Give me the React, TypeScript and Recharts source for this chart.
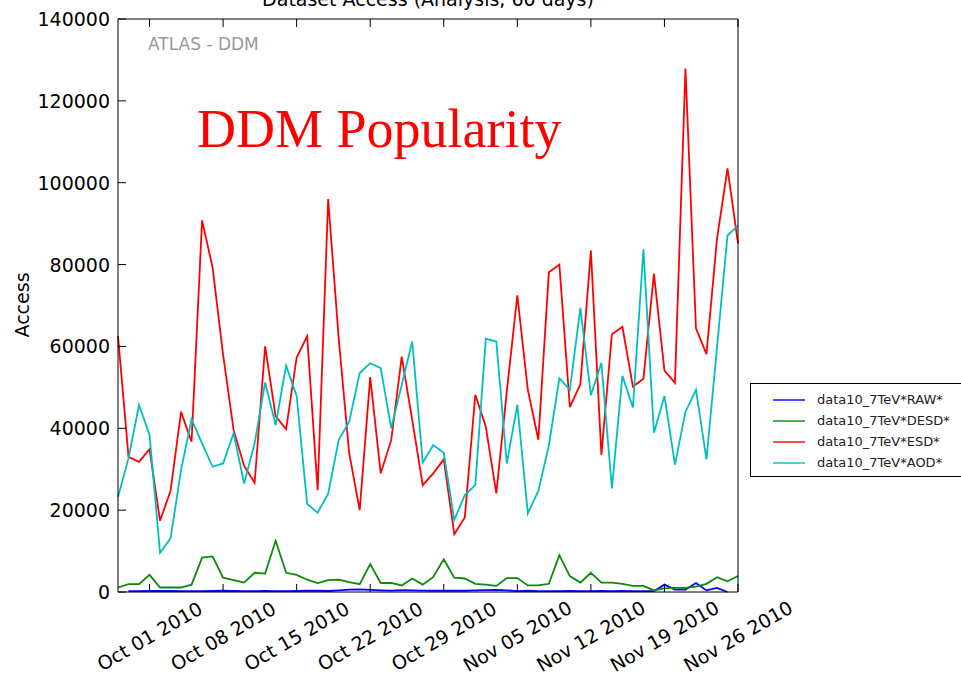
import { LineChart, Line, XAxis, YAxis } from "recharts";

// day 0 = Sep 28 2010, one point per day
const tickDays = [3, 10, 17, 24, 31, 38, 45, 52, 59];
const tickLabels = [
  "Oct 01 2010",
  "Oct 08 2010",
  "Oct 15 2010",
  "Oct 22 2010",
  "Oct 29 2010",
  "Nov 05 2010",
  "Nov 12 2010",
  "Nov 19 2010",
  "Nov 26 2010",
];
const yTicks = [0, 20000, 40000, 60000, 80000, 100000, 120000, 140000];

const raw = [
  null, 200, 200, 250, 250, 250, 200, 200, 200, 250, 300, 250, 200, 200, 250, 200, 200, 250, 300, 300,
  250, 400, 600, 650, 500, 400, 350, 450, 400, 350, 300, 300, 350, 300, 400, 450, 500, 400, 200, 300,
  200, 200, 200, 250, 200, 200, 250, 200, 250, 200, 200, 200, 1800, 600, 600, 2200, 400, 1000, 0, null,
];
const desd = [
  1100, 1900, 1900, 4200, 1100, 1100, 1100, 1800, 8400, 8700, 3500, 2900, 2300, 4700, 4500, 12500, 4700, 4200, 3000, 2200,
  2900, 3000, 2400, 1900, 6800, 2200, 2200, 1600, 3300, 1800, 3700, 8000, 3500, 3300, 2000, 1800, 1500, 3400, 3400, 1600,
  1600, 2000, 9000, 3900, 2300, 4700, 2300, 2300, 2000, 1500, 1500, 400, 900, 1000, 1000, 1300, 2000, 3600, 2600, 3900,
];
const esd = [
  62500, 33000, 31800, 34900, 17400, 24700, 44000, 36700, 90800, 79300, 58000, 39600, 30800, 26700, 60000, 42900, 39800, 57300, 62500, 24900,
  96000, 62000, 33900, 20000, 52500, 29000, 37100, 57500, 42000, 26100, 29000, 32400, 14100, 18200, 48200, 40400, 24100, 49000, 72500, 49400,
  37200, 78100, 80000, 45200, 50800, 83400, 33500, 63000, 64800, 50200, 52100, 77800, 54100, 51100, 127900, 64400, 58100, 86300, 103500, 85200,
];
const aod = [
  23200, 32700, 45700, 38400, 9600, 13100, 29800, 42200, 36300, 30600, 31400, 38800, 26500, 36300, 51200, 40800, 55300, 47900, 21500, 19400,
  24000, 37100, 41600, 53500, 55900, 54700, 40000, 50600, 61200, 31600, 35900, 34000, 17600, 23700, 26100, 61900, 61200, 31400, 45700, 19200,
  24700, 35800, 52200, 49400, 69400, 48100, 56000, 25300, 52800, 45100, 83700, 38900, 47900, 31100, 44000, 49400, 32400, 59700, 87100, 89500,
];

const series = [
  { key: "raw", name: "data10_7TeV*RAW*", color: "#0000ff" },
  { key: "desd", name: "data10_7TeV*DESD*", color: "#0a8a0a" },
  { key: "esd", name: "data10_7TeV*ESD*", color: "#ff0000" },
  { key: "aod", name: "data10_7TeV*AOD*", color: "#00bfbf" },
];

const rows = esd.map((_, i) => ({ day: i, raw: raw[i], desd: desd[i], esd: esd[i], aod: aod[i] }));

const FONT = "'DejaVu Sans', sans-serif";

function BottomTick({ x, y, payload }: any) {
  const label = tickLabels[tickDays.indexOf(payload.value)];
  return (
    <g>
      <line x1={x} x2={x} y1={y} y2={y - 8} stroke="#000" />
      <text
        transform={`translate(${x},${y + 44}) rotate(-30)`}
        textAnchor="middle"
        dominantBaseline="central"
        fontSize={19}
        fontFamily={FONT}
        fill="#000"
      >
        {label}
      </text>
    </g>
  );
}

function TopTick({ x, y }: any) {
  return <line x1={x} x2={x} y1={y} y2={y + 8} stroke="#000" />;
}

function LeftTick({ x, y, payload }: any) {
  return (
    <g>
      <line x1={x + 8} x2={x + 16} y1={y} y2={y} stroke="#000" />
      <text x={x} y={y} textAnchor="end" dominantBaseline="central" fontSize={19} fontFamily={FONT} fill="#000">
        {payload.value}
      </text>
    </g>
  );
}

function RightTick({ x, y }: any) {
  return <line x1={x} x2={x - 8} y1={y} y2={y} stroke="#000" />;
}

export default function App() {
  return (
    <div style={{ position: "absolute", left: 0, top: 0, width: 961, height: 674, background: "#fff" }}>
      <LineChart
        width={961}
        height={674}
        data={rows}
        margin={{ top: 18, right: 222, bottom: 81, left: 0 }}
      >
        <XAxis
          dataKey="day"
          type="number"
          domain={[0, 59]}
          ticks={tickDays}
          height={1}
          tickSize={0}
          tickMargin={0}
          tickLine={false}
          axisLine={{ stroke: "#000" }}
          tick={<BottomTick />}
          interval={0}
        />
        <XAxis
          xAxisId="top"
          orientation="top"
          dataKey="day"
          type="number"
          domain={[0, 59]}
          ticks={tickDays}
          height={1}
          tickSize={0}
          tickMargin={0}
          tickLine={false}
          axisLine={{ stroke: "#000" }}
          tick={<TopTick />}
          interval={0}
        />
        <YAxis
          type="number"
          domain={[0, 140000]}
          ticks={yTicks}
          width={118}
          tickSize={0}
          tickMargin={8}
          tickLine={false}
          axisLine={{ stroke: "#000" }}
          tick={<LeftTick />}
          interval={0}
        />
        <YAxis
          yAxisId="right"
          orientation="right"
          type="number"
          domain={[0, 140000]}
          ticks={yTicks}
          width={1}
          tickSize={0}
          tickMargin={0}
          tickLine={false}
          axisLine={{ stroke: "#000" }}
          tick={<RightTick />}
          interval={0}
        />
        {series.map((s) => (
          <Line
            key={s.key}
            dataKey={s.key}
            name={s.name}
            stroke={s.color}
            strokeWidth={1.8}
            dot={false}
            activeDot={false}
            type="linear"
            isAnimationActive={false}
          />
        ))}
      </LineChart>

      <svg width={961} height={674} style={{ position: "absolute", left: 0, top: 0, pointerEvents: "none" }}>
        <text x={428} y={6} textAnchor="middle" fontSize={19} fontFamily={FONT} fill="#000">
          Dataset Access (Analysis, 60 days)
        </text>
        <text x={148} y={50} fontSize={17} fontFamily={FONT} fill="#999">
          ATLAS - DDM
        </text>
        <text x={197} y={147} fontSize={54} fontFamily="'Liberation Serif', serif" fill="#ff0000">
          DDM Popularity
        </text>
        <text
          transform="translate(22,305) rotate(-90)"
          textAnchor="middle"
          dominantBaseline="central"
          fontSize={19}
          fontFamily={FONT}
          fill="#000"
        >
          Access
        </text>
      </svg>

      <div
        style={{
          position: "absolute",
          left: 750,
          top: 383,
          width: 215,
          height: 94,
          boxSizing: "border-box",
          border: "1px solid #000",
          background: "#fff",
          fontFamily: FONT,
          fontSize: 13,
          color: "#222",
          paddingTop: 5,
        }}
      >
        {series.map((s) => (
          <div key={s.key} style={{ display: "flex", alignItems: "center", height: 21 }}>
            <span style={{ display: "inline-block", width: 32, height: 2, background: s.color, marginLeft: 22, marginRight: 12, opacity: 0.7 }} />
            <span>{s.name}</span>
          </div>
        ))}
      </div>
    </div>
  );
}
